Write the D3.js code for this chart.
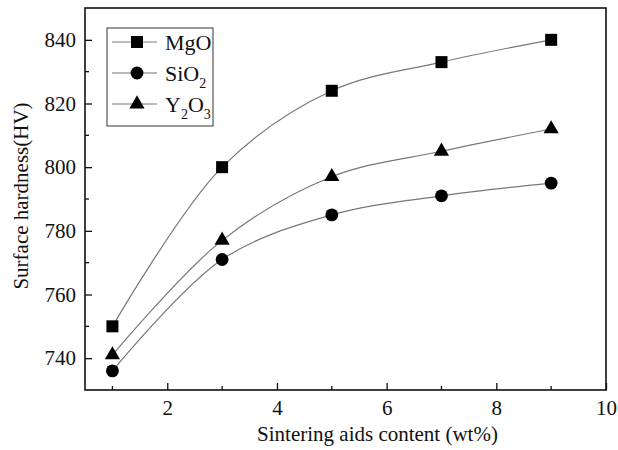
<!DOCTYPE html>
<html>
<head>
<meta charset="utf-8">
<script src="https://cdn.jsdelivr.net/npm/d3@7"></script>
<style>
  body { margin: 0; background: #fff; }
  text { font-family: "Liberation Serif", "Times New Roman", serif; fill: #111; }
</style>
</head>
<body>
<script>
// 烧结助剂含量 vs 表面硬度
var content = [1, 3, 5, 7, 9];
var mgo = [750, 800, 824, 833, 840];
var sio2 = [736, 771, 785, 791, 795];
var y2o3 = [741, 777, 797, 805, 812];
var xTicks = [2, 4, 6, 8, 10];
var yTicks = [740, 760, 780, 800, 820, 840];

var series = [
    { name: "MgO", values: mgo, symbol: d3.symbolSquare, size: 144 },
    { name: "SiO2", values: sio2, symbol: d3.symbolCircle, size: 130 },
    { name: "Y2O3", values: y2o3, symbol: d3.symbolTriangle, size: 100 }
];

var W = 618, H = 450;
var pL = 85, pT = 8, pR = 606, pB = 390;  // 绘图区边界

var svg = d3.select("body").append("svg")
    .attr("width", W)
    .attr("height", H);

var x = d3.scaleLinear().domain([0.5, 10]).range([pL, pR]);
var y = d3.scaleLinear().domain([730, 850]).range([pB, pT]);

// 次刻度
var g = svg.append("g");
g.selectAll(".xminor")
    .data([1, 3, 5, 7, 9])
    .enter().append("line")
    .attr("x1", d => x(d)).attr("x2", d => x(d))
    .attr("y1", pB).attr("y2", pB - 4)
    .attr("stroke", "#111").attr("stroke-width", 1.3);
g.selectAll(".yminor")
    .data([750, 770, 790, 810, 830])
    .enter().append("line")
    .attr("x1", pL).attr("x2", pL + 4)
    .attr("y1", d => y(d)).attr("y2", d => y(d))
    .attr("stroke", "#111").attr("stroke-width", 1.3);

// 坐标轴 (刻度朝内)
var xAxis = svg.append("g")
    .attr("transform", "translate(0," + pB + ")")
    .call(d3.axisBottom(x).tickValues(xTicks).tickSizeInner(-7).tickSizeOuter(0).tickPadding(10));
var yAxis = svg.append("g")
    .attr("transform", "translate(" + pL + ",0)")
    .call(d3.axisLeft(y).tickValues(yTicks).tickSizeInner(-7).tickSizeOuter(0).tickPadding(9));
[xAxis, yAxis].forEach(function (a) {
    a.select(".domain").remove();
    a.selectAll("line").attr("stroke", "#111").attr("stroke-width", 1.3);
    a.selectAll("text").attr("font-size", 21).attr("font-family", "Liberation Serif, serif").attr("fill", "#222");
});

// 边框
svg.append("rect")
    .attr("x", pL).attr("y", pT)
    .attr("width", pR - pL).attr("height", pB - pT)
    .attr("fill", "none").attr("stroke", "#111").attr("stroke-width", 1.6);

// 曲线
var line = d3.line()
    .x((d, i) => x(content[i]))
    .y(d => y(d))
    .curve(d3.curveCatmullRom.alpha(0.5));

series.forEach(function (s) {
    svg.append("path")
        .datum(s.values)
        .attr("d", line)
        .attr("fill", "none")
        .attr("stroke", "#777")
        .attr("stroke-width", 1.2);
    svg.selectAll(".pt-" + s.name)
        .data(s.values)
        .enter().append("path")
        .attr("transform", (d, i) => "translate(" + x(content[i]) + "," + y(d) + ")")
        .attr("d", d3.symbol().type(s.symbol).size(s.size))
        .attr("fill", "#000");
});

// 图例
var lg = svg.append("g");
lg.append("rect")
    .attr("x", 107).attr("y", 28)
    .attr("width", 106).attr("height", 98)
    .attr("fill", "#fff").attr("stroke", "#555").attr("stroke-width", 1.2);
var labels = [["MgO", "", "", ""], ["SiO", "2", "", ""], ["Y", "2", "O", "3"]];
series.forEach(function (s, i) {
    var yy = 42 + i * 31;
    lg.append("line")
        .attr("x1", 112).attr("x2", 157)
        .attr("y1", yy).attr("y2", yy)
        .attr("stroke", "#777").attr("stroke-width", 1.2);
    lg.append("path")
        .attr("transform", "translate(137," + yy + ")")
        .attr("d", d3.symbol().type(s.symbol).size(s.size))
        .attr("fill", "#000");
    var t = lg.append("text")
        .attr("x", 165).attr("y", yy + 8)
        .attr("font-size", 22);
    var p = labels[i];
    t.append("tspan").text(p[0]);
    if (p[1]) t.append("tspan").attr("font-size", 14).attr("dy", 7).text(p[1]);
    if (p[2]) t.append("tspan").attr("dy", -7).text(p[2]);
    if (p[3]) t.append("tspan").attr("font-size", 14).attr("dy", 7).text(p[3]);
});

// 轴标题
svg.append("text")
    .attr("x", (pL + pR) / 2 + 32).attr("y", 441)
    .attr("text-anchor", "middle")
    .attr("font-size", 21)
    .text("Sintering aids content (wt%)");
svg.append("text")
    .attr("transform", "translate(28,196) rotate(-90)")
    .attr("text-anchor", "middle")
    .attr("font-size", 21)
    .text("Surface hardness(HV)");
</script>
</body>
</html>
